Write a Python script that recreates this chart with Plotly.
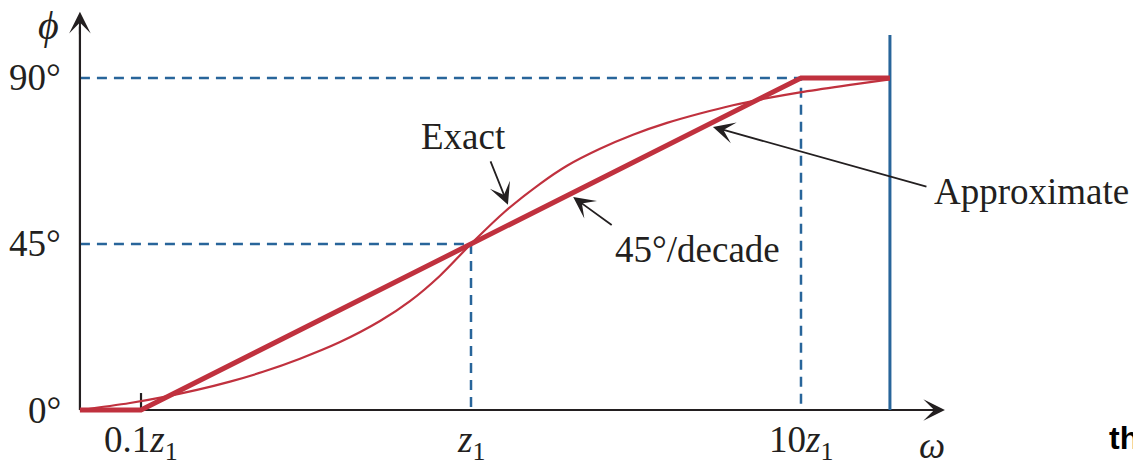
import math
import plotly.graph_objects as go

# ---- data (omega in units of z1, phase in degrees) ----
omega_exact = [0.0653, 0.0926, 0.1166, 0.1478, 0.1861, 0.2343, 0.3033, 0.4009, 0.530, 0.6532, 0.8055,
               1.0, 1.268, 1.619, 1.954, 2.460, 3.097, 3.926, 4.942, 6.221, 7.888, 9.93, 14.08, 18.6]
phase_exact = [0.0, 1.9, 3.5, 5.45, 7.7, 10.35, 13.9, 18.4, 24.1, 29.5, 36.4,
               45.0, 53.8, 61.3, 66.2, 70.8, 74.6, 77.8, 80.35, 82.6, 84.5, 86.1, 88.1, 89.6]

omega_approx = [0.0653, 0.1, 10.0, 18.6]
phase_approx = [0.0, 0.0, 90.0, 90.0]

omega_ticks = [0.1, 1.0, 10.0]
omega_tick_labels = ["0.1<i>z</i><sub>1</sub>", "<i>z</i><sub>1</sub>", "10<i>z</i><sub>1</sub>"]
phase_ticks = [0, 45, 90]
phase_tick_labels = ["0°", "45°", "90°"]

omega_axis_start = 0.0653
omega_axis_end = 27.3
phase_axis_end = 107.9
omega_limit = 18.6
phase_limit_top = 101.6

RED = "#c0313e"
BLUE = "#28659a"
INK = "#231f20"
SERIF = "Liberation Serif"
FS = 37

fig = go.Figure()

# dashed guide lines
fig.add_trace(go.Scatter(x=[omega_axis_start, 10.0, 10.0], y=[90, 90, 0], mode="lines",
                         line=dict(color=BLUE, width=2.5, dash="10px,7px"), hoverinfo="skip"))
fig.add_trace(go.Scatter(x=[omega_axis_start, 1.0, 1.0], y=[45, 45, 0], mode="lines",
                         line=dict(color=BLUE, width=2.5, dash="10px,7px"), hoverinfo="skip"))
# axes lines
fig.add_trace(go.Scatter(x=[omega_axis_start, omega_axis_start], y=[0, phase_axis_end - 4], mode="lines",
                         line=dict(color=INK, width=2.2), hoverinfo="skip"))
fig.add_trace(go.Scatter(x=[omega_axis_start, omega_axis_end * 0.93], y=[0, 0], mode="lines",
                         line=dict(color=INK, width=2.2), hoverinfo="skip"))
# tick at 0.1 z1
fig.add_trace(go.Scatter(x=[0.1, 0.1], y=[0, 4.6], mode="lines",
                         line=dict(color=INK, width=2.2), hoverinfo="skip"))
# solid blue vertical limit
fig.add_trace(go.Scatter(x=[omega_limit, omega_limit], y=[0, phase_limit_top], mode="lines",
                         line=dict(color=BLUE, width=3), hoverinfo="skip"))
# curves
fig.add_trace(go.Scatter(x=omega_exact, y=phase_exact, mode="lines",
                         line=dict(color=RED, width=2.2, shape="spline", smoothing=1.0), hoverinfo="skip"))
fig.add_trace(go.Scatter(x=omega_approx, y=phase_approx, mode="lines",
                         line=dict(color=RED, width=5), hoverinfo="skip"))

ann = []
# axis arrowheads
ann.append(dict(x=math.log10(omega_axis_start), y=phase_axis_end, xref="x", yref="y", text="",
                showarrow=True, ax=0, ay=24, arrowhead=3, arrowsize=1.8, arrowwidth=2, arrowcolor=INK))
ann.append(dict(x=math.log10(omega_axis_end), y=0, xref="x", yref="y", text="",
                showarrow=True, ax=-24, ay=0, arrowhead=3, arrowsize=1.8, arrowwidth=2, arrowcolor=INK))

# y tick labels
for v, t in zip(phase_ticks, phase_tick_labels):
    ann.append(dict(x=63 / 1133, y=v, xref="paper", yref="y", text=t, showarrow=False,
                    xanchor="right", yanchor="middle", font=dict(family=SERIF, size=FS, color=INK)))
# x tick labels
for v, t in zip(omega_ticks, omega_tick_labels):
    ann.append(dict(x=math.log10(v), y=-8.9, xref="x", yref="y", text=t, showarrow=False,
                    xanchor="center", yanchor="middle", font=dict(family=SERIF, size=FS, color=INK)))
# axis titles
ann.append(dict(x=48 / 1133, y=1 - 26 / 465, xref="paper", yref="paper", text="<i>ϕ</i>", showarrow=False,
                xanchor="center", yanchor="middle", font=dict(family=SERIF, size=FS + 3, color=INK)))
ann.append(dict(x=932 / 1133, y=1 - 445 / 465, xref="paper", yref="paper", text="<i>ω</i>", showarrow=False,
                xanchor="center", yanchor="middle", font=dict(family=SERIF, size=FS, color=INK)))
# labels
ann.append(dict(x=463 / 1133, y=1 - 136 / 465, xref="paper", yref="paper", text="Exact", showarrow=False,
                xanchor="center", yanchor="middle", font=dict(family=SERIF, size=FS, color=INK)))
ann.append(dict(x=697 / 1133, y=1 - 249 / 465, xref="paper", yref="paper", text="45°/decade", showarrow=False,
                xanchor="center", yanchor="middle", font=dict(family=SERIF, size=FS, color=INK)))
ann.append(dict(x=1031 / 1133, y=1 - 192 / 465, xref="paper", yref="paper", text="Approximate", showarrow=False,
                xanchor="center", yanchor="middle", font=dict(family=SERIF, size=FS, color=INK)))
ann.append(dict(x=1107 / 1133, y=1 - 438 / 465, xref="paper", yref="paper", text="<b>th</b>", showarrow=False,
                xanchor="left", yanchor="middle", font=dict(family="Liberation Sans", size=32, color="#000000")))

# pointer arrows (tip at data points, tail offsets in pixels)
ann.append(dict(x=math.log10(1.294), y=55.6, xref="x", yref="y", text="", showarrow=True,
                ax=-18, ay=-45, arrowhead=3, arrowsize=2.0, arrowwidth=1.8, arrowcolor=INK))
ann.append(dict(x=math.log10(2.04), y=57.7, xref="x", yref="y", text="", showarrow=True,
                ax=40, ay=29, arrowhead=3, arrowsize=2.0, arrowwidth=1.8, arrowcolor=INK))
ann.append(dict(x=math.log10(5.41), y=76.7, xref="x", yref="y", text="", showarrow=True,
                ax=215, ay=60, arrowhead=3, arrowsize=2.0, arrowwidth=1.8, arrowcolor=INK))

fig.update_layout(
    width=1133, height=465,
    margin=dict(l=0, r=0, t=0, b=0),
    paper_bgcolor="white", plot_bgcolor="white",
    showlegend=False,
    xaxis=dict(type="log", range=[-1.4273, 2.0061], visible=False),
    yaxis=dict(range=[-14.905, 111.111], visible=False),
    annotations=ann,
)

fig.write_html("out.html", config={"displayModeBar": False, "staticPlot": True},
               post_script="document.body.style.margin='0';document.body.style.overflow='hidden';")
